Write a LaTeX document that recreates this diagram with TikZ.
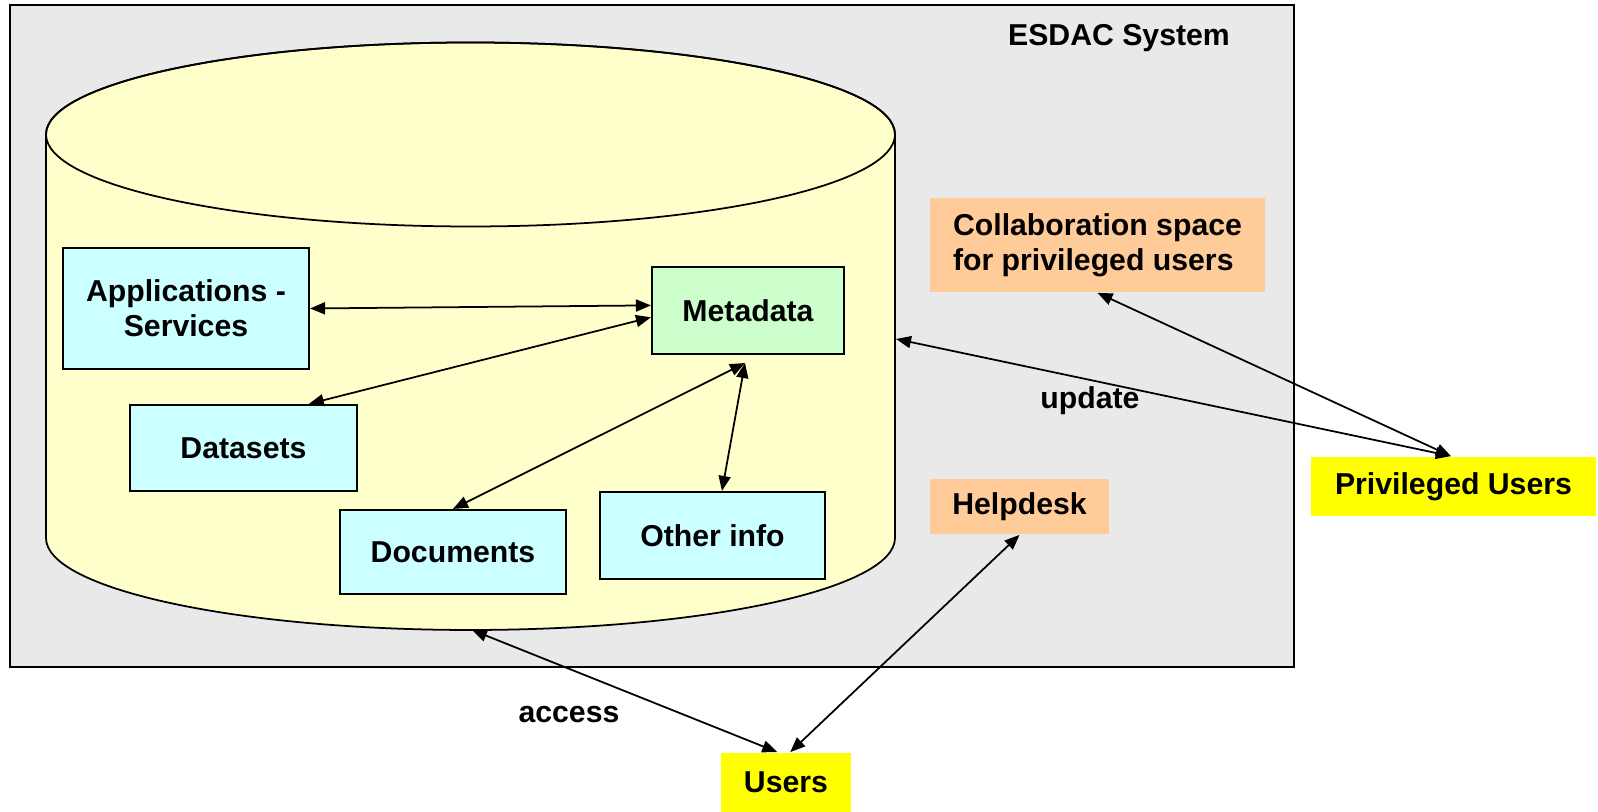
\documentclass[tikz,border=0pt]{standalone}
\usepackage{fontspec}
\setmainfont{Liberation Sans}
\usetikzlibrary{arrows.meta}

\definecolor{sysgray}{HTML}{E9E9E9}
\definecolor{cylyellow}{HTML}{FFFFCC}
\definecolor{infoblue}{HTML}{CCFFFF}
\definecolor{metagreen}{HTML}{CCFFCC}
\definecolor{peach}{HTML}{FFCC99}
\definecolor{useryellow}{HTML}{FFFF00}

\tikzset{
  box/.style={draw, line width=0.6pt, inner sep=0pt},
  tag/.style={inner sep=0pt},
}

\begin{document}
\begin{tikzpicture}[>={Triangle[length=1.5mm,width=1.2mm]}, line width=0.5pt,
    font=\fontsize{8.6}{10}\selectfont\bfseries]
    \useasboundingbox (0,0) rectangle (15.98,8.12);

    % system frame
    \draw[line width=0.6pt, fill=sysgray] (0.10,1.45) rectangle (12.94,8.07);
    \node (title) at (11.19,7.74) {ESDAC System};

    % the data store
    \draw[fill=cylyellow] (0.46,6.775) -- (0.46,2.74)
      arc[start angle=180, end angle=360, x radius=4.245, y radius=0.92]
      -- (8.95,6.775)
      arc[start angle=0, end angle=180, x radius=4.245, y radius=0.92] -- cycle;
    \draw (4.705,6.775) ellipse [x radius=4.245, y radius=0.92];
    \coordinate (cylright) at (8.96,4.73);
    \coordinate (cylbottom) at (4.72,1.82);

    \node[box, fill=infoblue, minimum width=2.46cm, minimum height=1.21cm, align=center] (apps) at (1.86,5.035) {Applications -\\Services};
    \node[box, fill=metagreen, minimum width=1.92cm, minimum height=0.87cm] (meta) at (7.48,5.015) {Metadata};
    \node[box, fill=infoblue, minimum width=2.27cm, minimum height=0.86cm] (datasets) at (2.435,3.64) {Datasets};
    \node[box, fill=infoblue, minimum width=2.26cm, minimum height=0.84cm] (documents) at (4.53,2.60) {Documents};
    \node[box, fill=infoblue, minimum width=2.25cm, minimum height=0.87cm] (otherinfo) at (7.125,2.765) {Other info};
    \coordinate (metalow) at ([shift={(-0.03,-0.08)}]meta.south);

    \node[tag, fill=peach, minimum width=3.35cm, minimum height=0.94cm, align=left] (collab) at (10.975,5.67) {Collaboration space\\for privileged users};
    \node[tag, fill=peach, minimum width=1.79cm, minimum height=0.55cm] (helpdesk) at (10.195,3.055) {Helpdesk};
    \node[tag, fill=useryellow, minimum width=2.85cm, minimum height=0.59cm] (privusers) at (14.535,3.255) {Privileged Users};
    \node[tag, fill=useryellow, minimum width=1.30cm, minimum height=0.59cm] (users) at (7.86,0.295) {Users};

    \node (update) at (10.90,4.115) {update};
    \node (access) at (5.69,0.97) {access};

    % links
    \draw[<->] (apps.east) -- (meta.177);
    \draw[<->] (datasets.34) -- (meta.184);
    \draw[<->] (documents.north) -- (metalow);
    \draw[<->] (otherinfo.78) -- (metalow);
    \draw[<->] (cylright) -- (privusers.95);
    \draw[<->] (collab.south) -- (privusers.95);
    \draw[<->] (cylbottom) -- (users.106);
    \draw[<->] (helpdesk.south) -- (users.82);
\end{tikzpicture}
\end{document}
